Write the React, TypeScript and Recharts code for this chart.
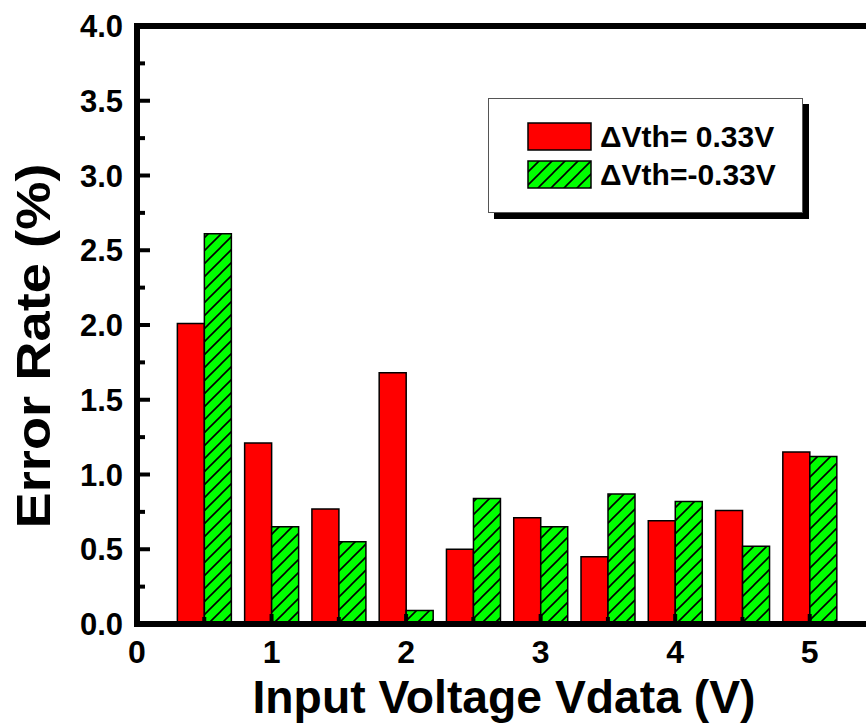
import React from 'react';
import { BarChart, Bar, XAxis, YAxis, Legend, ReferenceLine, Label } from 'recharts';

// ---- data ----
const voltages = [0.5, 1, 1.5, 2, 2.5, 3, 3.5, 4, 4.5, 5];
const errPlus = [2.01, 1.21, 0.77, 1.68, 0.5, 0.71, 0.45, 0.69, 0.76, 1.15];
const errMinus = [2.61, 0.65, 0.55, 0.09, 0.84, 0.65, 0.87, 0.82, 0.52, 1.12];
const seriesNames = ['\u0394Vth= 0.33V', '\u0394Vth=-0.33V'];
const xTicks = [0, 0.5, 1, 1.5, 2, 2.5, 3, 3.5, 4, 4.5, 5];
const yTicks = [0, 0.25, 0.5, 0.75, 1, 1.25, 1.5, 1.75, 2, 2.25, 2.5, 2.75, 3, 3.25, 3.5, 3.75, 4];
const xLabel = 'Input Voltage Vdata (V)';
const yLabel = 'Error Rate (%)';

const data = voltages.map((v, i) => ({ v, plus: errPlus[i], minus: errMinus[i] }));

const FONT = "'Liberation Sans', Arial, Helvetica, sans-serif";
const RED = '#ff0000';
const GREEN = '#00ff00';

const isMajorY = (v: number) => Math.abs(v * 2 - Math.round(v * 2)) < 1e-6;
const isInt = (v: number) => Math.abs(v - Math.round(v)) < 1e-6;

const YTick = (props: any) => {
  const { x, y, payload } = props;
  const v = payload.value as number;
  const major = isMajorY(v);
  return (
    <g>
      <line x1={x} x2={x + (major ? 13 : 8)} y1={y} y2={y} stroke="#000" strokeWidth={4} />
      {major && (
        <text x={x - 14} y={y} dy="0.36em" textAnchor="end" fontFamily={FONT} fontWeight="bold" fontSize={31} fill="#000">
          {v.toFixed(1)}
        </text>
      )}
    </g>
  );
};

const XTick = (props: any) => {
  const { x, y, payload } = props;
  const v = payload.value as number;
  const major = isInt(v);
  return (
    <g>
      <line x1={x} x2={x} y1={y} y2={y - (major ? 10 : 7)} stroke="#000" strokeWidth={4} />
      {major && (
        <text x={x} y={y + 16} dy="0.72em" textAnchor="middle" fontFamily={FONT} fontWeight="bold" fontSize={32} fill="#000">
          {String(v)}
        </text>
      )}
    </g>
  );
};

const XTitle = (props: any) => {
  const vb = props.viewBox;
  return (
    <text x={vb.x + vb.width / 2 - 3} y={vb.y + 89} textAnchor="middle" fontFamily={FONT} fontWeight="bold" fontSize={47}
      textLength={503} lengthAdjust="spacingAndGlyphs" fill="#000">
      {xLabel}
    </text>
  );
};

const YTitle = (props: any) => {
  const vb = props.viewBox;
  const cx = vb.x + 50;
  const cy = vb.y + vb.height / 2 + 21;
  return (
    <text x={cx} y={cy} transform={`rotate(-90 ${cx} ${cy})`} textAnchor="middle" fontFamily={FONT} fontWeight="bold" fontSize={48}
      textLength={365} lengthAdjust="spacingAndGlyphs" fill="#000">
      {yLabel}
    </text>
  );
};

const Swatch = ({ color, idx }: { color: string; idx: number }) => (
  <svg width={65} height={29} style={{ display: 'block' }}>
    <defs>
      <pattern id={`lg-hatch-${idx}`} patternUnits="userSpaceOnUse" width={13} height={13}>
        <rect width={13} height={13} fill={GREEN} />
        <path d="M-3,3 l6,-6 M0,13 l13,-13 M10,16 l6,-6" stroke="#000" strokeWidth={1.6} />
      </pattern>
    </defs>
    <rect x={1} y={1} width={63} height={27} fill={color.startsWith('url') ? `url(#lg-hatch-${idx})` : color} stroke="#000" strokeWidth={1.5} />
  </svg>
);

const LegendBox = (props: any) => {
  const payload = props.payload || [];
  return (
    <div style={{
      width: 315, height: 115, boxSizing: 'border-box', border: '1px solid #555', background: '#fff',
      boxShadow: '6px 6px 0 #000', position: 'relative', fontFamily: FONT, fontWeight: 'bold', fontSize: 30, color: '#000'
    }}>
      {payload.map((p: any, i: number) => (
        <div key={i} style={{ position: 'absolute', left: 38, top: 23 + i * 38, height: 29, display: 'flex', alignItems: 'center' }}>
          <Swatch color={p.payload?.fill || p.color} idx={i} />
          <span style={{ marginLeft: 8, lineHeight: '29px', whiteSpace: 'nowrap' }}>{p.value}</span>
        </div>
      ))}
    </div>
  );
};

export default function App() {
  return (
    <div style={{ position: 'absolute', left: 0, top: 0, width: 866, height: 726, overflow: 'hidden', background: '#fff' }}>
      <BarChart width={900} height={726} data={data} margin={{ top: 26, right: 23, left: 0, bottom: 0 }}
        barGap={0} barCategoryGap="10%">
        <defs>
          <pattern id="hatch" patternUnits="userSpaceOnUse" width={13} height={13}>
            <rect width={13} height={13} fill={GREEN} />
            <path d="M-3,3 l6,-6 M0,13 l13,-13 M10,16 l6,-6" stroke="#000" strokeWidth={1.6} />
          </pattern>
        </defs>
        <XAxis dataKey="v" type="number" domain={[0, 5.5]} ticks={xTicks} interval={0} height={102}
          tickSize={0} tickMargin={0} tickLine={false} tick={<XTick />}
          axisLine={{ stroke: '#000', strokeWidth: 6, strokeLinecap: 'square' }} allowDataOverflow>
          <Label content={<XTitle />} />
        </XAxis>
        <YAxis type="number" domain={[0, 4]} ticks={yTicks} interval={0} width={137}
          tickSize={0} tickMargin={0} tickLine={false} tick={<YTick />}
          axisLine={{ stroke: '#000', strokeWidth: 6, strokeLinecap: 'square' }} allowDataOverflow>
          <Label content={<YTitle />} />
        </YAxis>
        <ReferenceLine y={4} stroke="#000" strokeWidth={6} />
        <Legend layout="horizontal" verticalAlign="middle" align="center" content={<LegendBox />}
          wrapperStyle={{ position: 'absolute', left: 488, top: 98, width: 315, height: 115 }} />
        <Bar dataKey="plus" name={seriesNames[0]} fill={RED} stroke="#000" strokeWidth={1.5} isAnimationActive={false} />
        <Bar dataKey="minus" name={seriesNames[1]} fill="url(#hatch)" stroke="#000" strokeWidth={1.5} isAnimationActive={false} />
      </BarChart>
    </div>
  );
}
